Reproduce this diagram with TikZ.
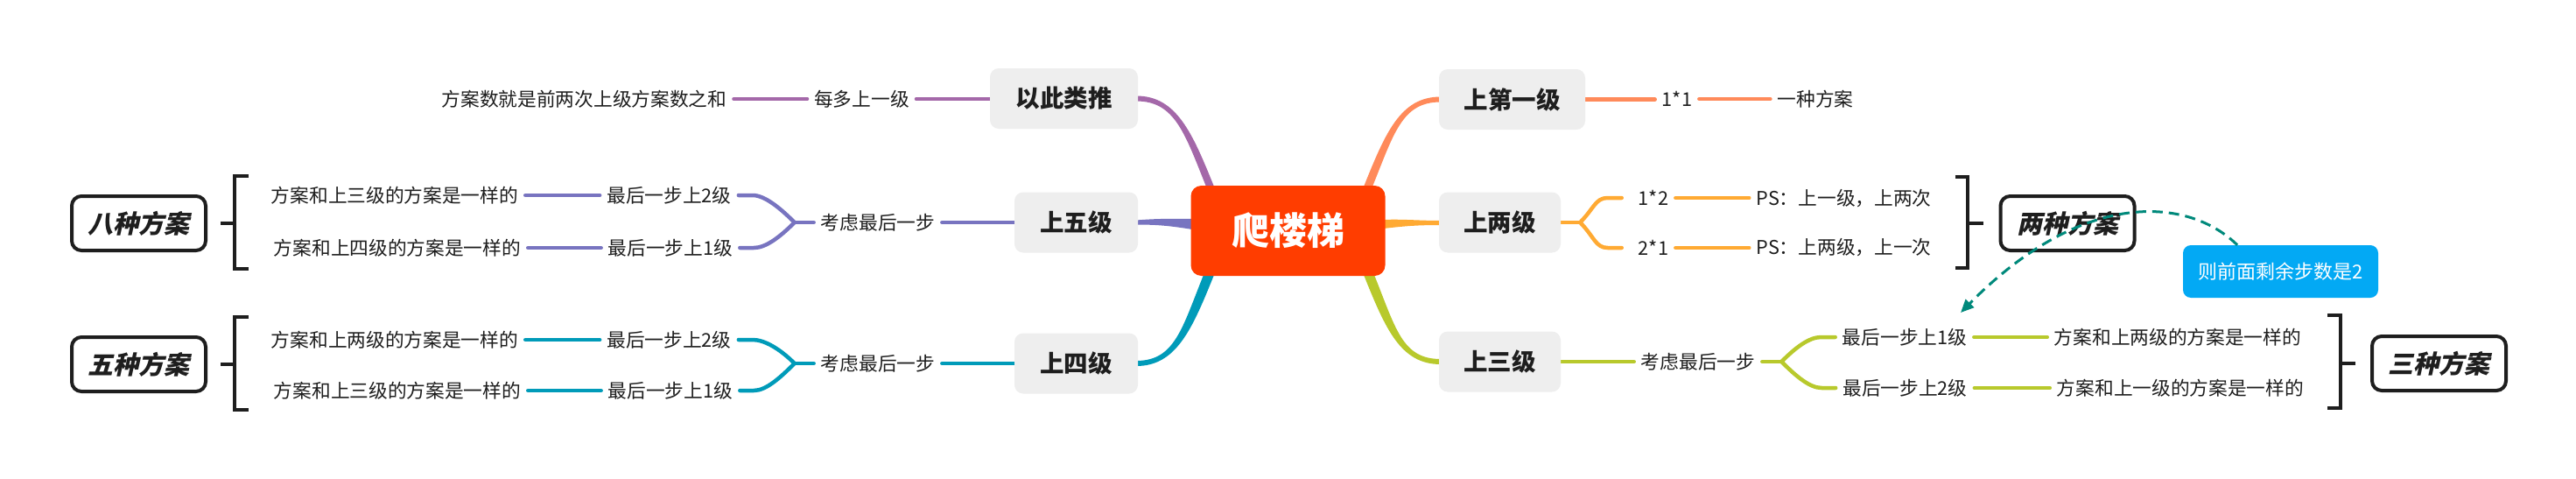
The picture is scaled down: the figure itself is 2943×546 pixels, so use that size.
\documentclass[tikz,border=0pt]{standalone}
\usepackage{fontspec}
\setmainfont{Noto Sans CJK SC}
\newfontfamily\slantcjk{Noto Sans CJK SC}[FakeSlant=0.22]
\usetikzlibrary{calc,arrows.meta}
\pgfdeclarelayer{back}
\pgfdeclarelayer{bg}
\pgfsetlayers{back,bg,main}
\definecolor{cpurple}{HTML}{A468A9}
\definecolor{csalmon}{HTML}{FF8A5A}
\definecolor{clav}{HTML}{7874C0}
\definecolor{corange}{HTML}{FFAA33}
\definecolor{cteal}{HTML}{009BB9}
\definecolor{cyg}{HTML}{B8C92C}
\definecolor{ccenter}{HTML}{FF3D00}
\definecolor{boxgray}{HTML}{EEEEEE}
\definecolor{ccall}{HTML}{03A9F4}
\definecolor{carrow}{HTML}{00897B}
\definecolor{ink}{HTML}{1E1E1E}
\tikzset{
  centerbox/.style={fill=ccenter, rounded corners=12pt, minimum width=222pt, minimum height=103pt, inner sep=0pt, text=white, font=\fontsize{43pt}{50pt}\selectfont\bfseries},
  mainbox/.style={fill=boxgray, rounded corners=10pt, minimum height=69pt, inner sep=0pt, text=ink, font=\fontsize{27.5pt}{33pt}\selectfont\bfseries},
  leaf/.style={inner xsep=8pt, inner ysep=2pt, text=ink, font=\fontsize{21.7pt}{26pt}\selectfont},
  sumbox/.style={draw=ink, line width=4pt, rounded corners=11pt, fill=white, minimum width=153pt, minimum height=62pt, inner sep=0pt, text=ink, font=\fontsize{29pt}{35pt}\selectfont\slantcjk\bfseries},
  callbox/.style={fill=ccall, rounded corners=9pt, minimum width=223pt, minimum height=60pt, inner sep=0pt, text=white, font=\fontsize{22pt}{26pt}\selectfont},
  conn/.style={line width=4.5pt, line cap=round, line join=round},
  brk/.style={line width=4pt, draw=ink},
}
\begin{document}
\begin{tikzpicture}[x=1pt,y=-1pt]
\begin{pgfonlayer}{back}
\fill[white] (0,0) rectangle (2943,546);
\end{pgfonlayer}
\useasboundingbox (0,0) rectangle (2943,546);

% center and main boxes
\node[centerbox] (c) at (1471.5,263.5) {爬楼梯};
\node[mainbox, minimum width=169pt] (b1) at (1215.5,112.5) {以此类推};
\node[mainbox, minimum width=141pt] (b2) at (1229.5,254) {上五级};
\node[mainbox, minimum width=141pt] (b3) at (1229.5,415) {上四级};
\node[mainbox, minimum width=167pt] (r1) at (1727.5,113.5) {上第一级};
\node[mainbox, minimum width=139pt] (r2) at (1713.5,254) {上两级};
\node[mainbox, minimum width=139pt] (r3) at (1713.5,413) {上三级};

% leaves left top
\node[leaf] (l1a) at (984.5,113) {每多上一级};
\node[leaf] (l1b) at (667.5,113) {方案数就是前两次上级方案数之和};
% left middle
\node[leaf] (k5) at (1003,254) {考虑最后一步};
\node[leaf] (f5a) at (764.5,223) {最后一步上2级};
\node[leaf] (f5b) at (766,283) {最后一步上1级};
\node[leaf] (g5a) at (451,223) {方案和上三级的方案是一样的};
\node[leaf] (g5b) at (454,283) {方案和上四级的方案是一样的};
% left bottom
\node[leaf] (k4) at (1003,415) {考虑最后一步};
\node[leaf] (f4a) at (764.5,388) {最后一步上2级};
\node[leaf] (f4b) at (766,446) {最后一步上1级};
\node[leaf] (g4a) at (451,388) {方案和上两级的方案是一样的};
\node[leaf] (g4b) at (454,446) {方案和上三级的方案是一样的};
% right top
\node[leaf] (m1) at (1916,113) {1*1};
\node[leaf] (m2) at (2074,113) {一种方案};
% right middle
\node[leaf] (n1) at (1889,226) {1*2};
\node[leaf] (n2) at (1889,283) {2*1};
\node[leaf] (p1) at (2106.5,227) {PS：上一级，上两次};
\node[leaf] (p2) at (2106.5,283) {PS：上两级，上一次};
% right bottom
\node[leaf] (k3) at (1940,413) {考虑最后一步};
\node[leaf] (q1) at (2176,385) {最后一步上1级};
\node[leaf] (q2) at (2176.5,443) {最后一步上2级};
\node[leaf] (t1) at (2488,385) {方案和上两级的方案是一样的};
\node[leaf] (t2) at (2491,443) {方案和上一级的方案是一样的};

% summary boxes
\node[sumbox] (s5) at (158.5,255) {八种方案};
\node[sumbox] (s4) at (158.5,416) {五种方案};
\node[sumbox] (s2) at (2362,255) {两种方案};
\node[sumbox] (s3) at (2786.5,415) {三种方案};

% callout
\node[callbox] (co) at (2605.5,310) {则前面剩余步数是2};

\begin{pgfonlayer}{bg}
% main tapered connectors
\fill[cpurple] ($(b1.east)+(-2,-3)$) .. controls +(46,0) and +(-25,-62) .. ($(c.north west)+(27,2)$) -- ($(c.north west)+(18,2)$) .. controls +(-25,-62) and +(44,0) .. ($(b1.east)+(-2,3)$) -- cycle;
\fill[csalmon] ($(r1.west)+(2,-3)$) .. controls +(-46,0) and +(25,-62) .. ($(c.north east)+(-25,2)$) -- ($(c.north east)+(-15,2)$) .. controls +(25,-62) and +(-44,0) .. ($(r1.west)+(2,3)$) -- cycle;
\fill[cteal] ($(b3.east)+(-2,3)$) .. controls +(46,0) and +(-25,62) .. ($(c.south west)+(27,-2)$) -- ($(c.south west)+(15,-2)$) .. controls +(-25,62) and +(44,0) .. ($(b3.east)+(-2,-3)$) -- cycle;
\fill[cyg] ($(r3.west)+(2,3)$) .. controls +(-46,0) and +(25,62) .. ($(c.south east)+(-25,-2)$) -- ($(c.south east)+(-13,-2)$) .. controls +(25,62) and +(-44,0) .. ($(r3.west)+(2,-3)$) -- cycle;
\fill[clav] ($(b2.east)+(-2,-2.5)$) .. controls +(30,-2.5) and +(-12,0) .. ($(c.west)+(2,-13.5)$) -- ($(c.west)+(2,-1.5)$) .. controls +(-25,-4) and +(25,0) .. ($(b2.east)+(-2,2.5)$) -- cycle;
\fill[corange] ($(c.east)+(-2,-12.5)$) .. controls +(20,-1) and +(-25,0) .. ($(r2.west)+(2,-2)$) -- ($(r2.west)+(2,3)$) .. controls +(-25,0) and +(25,-3) .. ($(c.east)+(-2,-2.5)$) -- cycle;

% purple leaves
\draw[conn,cpurple] (l1b.east) -- (l1b.east -| l1a.west);
\draw[conn,cpurple] (l1a.east) -- (l1a.east -| b1.west);

% lavender (上五级)
\coordinate (J5) at ($(k5.west)+(-22,0)$);
\draw[conn,clav] (k5.east) -- (k5.east -| b2.west);
\draw[conn,clav] (k5.west) -- (J5);
\draw[conn,clav] (f5a.east) -- ++(16,0) .. controls +(14,0) and +(-16,-16) .. (J5);
\draw[conn,clav] (f5b.east) -- ++(16,0) .. controls +(14,0) and +(-16,16) .. (J5);
\draw[conn,clav] (g5a.east) -- (g5a.east -| f5a.west);
\draw[conn,clav] (g5b.east) -- (g5b.east -| f5b.west);

% teal (上四级)
\coordinate (J4) at ($(k4.west)+(-22,0)$);
\draw[conn,cteal] (k4.east) -- (k4.east -| b3.west);
\draw[conn,cteal] (k4.west) -- (J4);
\draw[conn,cteal] (f4a.east) -- ++(16,0) .. controls +(14,0) and +(-16,-16) .. (J4);
\draw[conn,cteal] (f4b.east) -- ++(16,0) .. controls +(14,0) and +(-16,16) .. (J4);
\draw[conn,cteal] (g4a.east) -- (g4a.east -| f4a.west);
\draw[conn,cteal] (g4b.east) -- (g4b.east -| f4b.west);

% salmon (上第一级)
\draw[conn,csalmon] (r1.east) -- (r1.east -| m1.west);
\draw[conn,csalmon] (m1.east) -- (m1.east -| m2.west);

% orange (上两级)
\coordinate (J2) at ($(r2.east)+(22,0)$);
\draw[conn,corange] (r2.east) -- (J2);
\draw[conn,corange] (J2) .. controls +(16,-16) and +(-14,0) .. ($(n1.west)+(-27,0)$) -- ($(n1.west)+(-11,0)$);
\draw[conn,corange] (J2) .. controls +(16,16) and +(-14,0) .. ($(n2.west)+(-27,0)$) -- ($(n2.west)+(-11,0)$);
\draw[conn,corange] (n1.east) -- (n1.east -| p1.west);
\draw[conn,corange] (n2.east) -- (n2.east -| p2.west);

% yellow-green (上三级)
\coordinate (J3) at ($(k3.east)+(22,0)$);
\draw[conn,cyg] (r3.east) -- (r3.east -| k3.west);
\draw[conn,cyg] (k3.east) -- (J3);
\draw[conn,cyg] (J3) .. controls +(16,-16) and +(-14,0) .. ($(q1.west)+(-16,0)$) -- (q1.west);
\draw[conn,cyg] (J3) .. controls +(16,16) and +(-14,0) .. ($(q2.west)+(-16,0)$) -- (q2.west);
\draw[conn,cyg] (q1.east) -- (q1.east -| t1.west);
\draw[conn,cyg] (q2.east) -- (q2.east -| t2.west);
\end{pgfonlayer}

% brackets
\draw[brk] ($(s5.east)+(15,0)$) -- ($(s5.east)+(31,0)$);
\draw[brk] ($(s5.east)+(47,-54)$) -- ($(s5.east)+(31,-54)$) -- ($(s5.east)+(31,52)$) -- ($(s5.east)+(47,52)$);
\draw[brk] ($(s4.east)+(15,0)$) -- ($(s4.east)+(31,0)$);
\draw[brk] ($(s4.east)+(47,-54)$) -- ($(s4.east)+(31,-54)$) -- ($(s4.east)+(31,52)$) -- ($(s4.east)+(47,52)$);
\draw[brk] ($(s2.west)+(-18,0)$) -- ($(s2.west)+(-36,0)$);
\draw[brk] ($(s2.west)+(-50,-53)$) -- ($(s2.west)+(-36,-53)$) -- ($(s2.west)+(-36,51)$) -- ($(s2.west)+(-50,51)$);
\draw[brk] ($(s3.west)+(-17,0)$) -- ($(s3.west)+(-34,0)$);
\draw[brk] ($(s3.west)+(-49,-55)$) -- ($(s3.west)+(-34,-55)$) -- ($(s3.west)+(-34,51)$) -- ($(s3.west)+(-49,51)$);

% dashed arrow from callout
\coordinate (arrtip) at (2240,357);
\draw[carrow, line width=3pt, dash pattern=on 12pt off 7pt, -{Triangle[length=15pt,width=13pt]}] ($(co.north)+(-49.5,0)$) .. controls +(-56,-55) and +(140,-142) .. (arrtip);
\end{tikzpicture}
\end{document}
